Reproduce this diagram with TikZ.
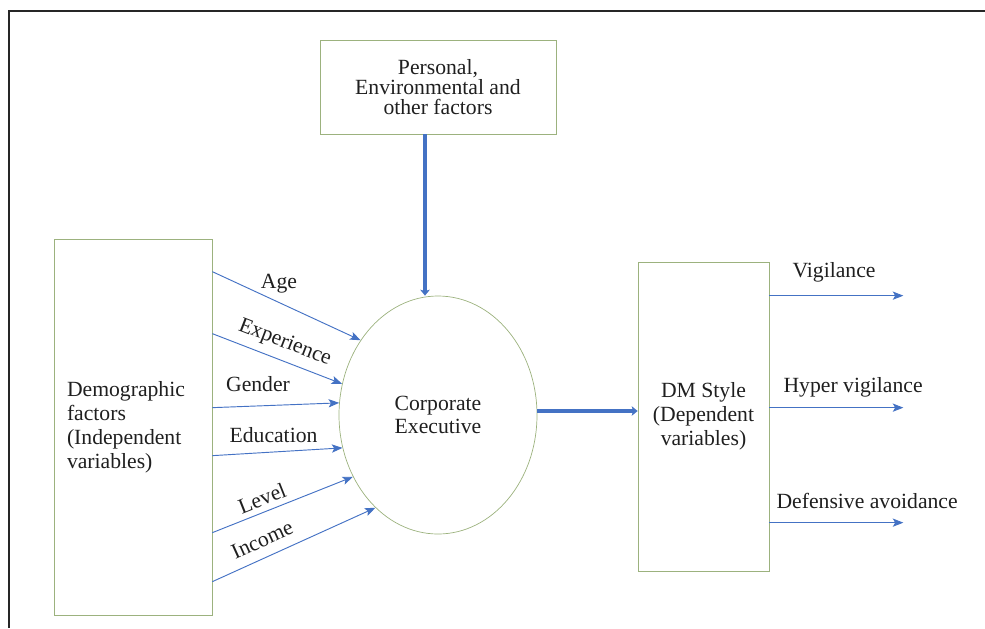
\documentclass[tikz,border=0pt]{standalone}
\usepackage{fontspec}
\setmainfont{Liberation Serif}
\usetikzlibrary{positioning, arrows.meta, shapes.geometric, calc}

\begin{document}
\begin{tikzpicture}[
    % Node styles
    factorbox/.style={
        rectangle, draw=boxgreen, line width=0.6pt,
        font=\fontsize{18.5}{20.5}\selectfont, text=textgray, align=center
    },
    execnode/.style={
        ellipse, draw=boxgreen, line width=0.6pt, inner sep=0pt,
        minimum width=5.94cm, minimum height=7.14cm,
        font=\fontsize{18.5}{19.5}\selectfont, text=textgray, align=center
    },
    varlabel/.style={
        font=\fontsize{18.5}{20}\selectfont, text=textgray, inner sep=0pt
    },
    arrow/.style={
        -{Stealth[length=9pt, width=7pt, inset=2pt]}, line width=0.8pt, color=#1
    },
    thick arrow/.style={
        -{Stealth[length=5pt, width=8pt, inset=1pt]}, line width=4pt, color=#1
    },
    frame/.style={
        draw=black!85, line width=1.5pt
    }
]

% ── Colours ──
\definecolor{boxgreen}{HTML}{9CB27E}
\definecolor{arrowblue}{HTML}{4472C4}
\definecolor{textgray}{HTML}{1F1F1F}

\useasboundingbox (0,0) rectangle (29.55,-18.84);

% ════════════════════════════════════════
% FRAME (left and top edges)
% ════════════════════════════════════════
\draw[frame] (0.27,-18.84) |- (29.55,-0.33);

% ════════════════════════════════════════
% NODES
% ════════════════════════════════════════
\node[factorbox, minimum width=7.08cm, minimum height=2.82cm,
      font=\fontsize{18.5}{17}\selectfont]
    (pef)  at (13.14, -2.61)  {Personal,\\Environmental and\\other factors};
\node[factorbox, minimum width=4.74cm, minimum height=11.28cm,
      text width=3.96cm, inner xsep=0.39cm, align=left]
    (demo) at (3.99, -12.81)  {Demographic\\factors\\(Independent\\variables)};
\node[execnode]
    (ce)   at (13.14, -12.45) {Corporate\\Executive};
\node[factorbox, minimum width=3.93cm, minimum height=9.27cm]
    (dm)   at (21.105, -12.495) {DM Style\\(Dependent\\variables)};

% ════════════════════════════════════════
% THICK ARROWS
% ════════════════════════════════════════
% Personal factors -> Corporate Executive
\draw[thick arrow=arrowblue] ([xshift=-0.39cm]pef.south) -- ([xshift=-0.39cm]ce.north);
% Corporate Executive -> DM Style
\draw[thick arrow=arrowblue] ([yshift=0.12cm]ce.east) -- ([yshift=0.12cm]ce.east -| dm.west);

% ════════════════════════════════════════
% DEMOGRAPHIC FACTORS -> Corporate Executive
% ════════════════════════════════════════
\draw[arrow=arrowblue] ($(demo.north east)+(0,-0.99)$)  -- (ce.136)
    node[varlabel, pos=0.45, above=0.28cm] (agelbl) {Age};
\draw[arrow=arrowblue] ($(demo.north east)+(0,-2.85)$)  -- (ce.162)
    node[varlabel, pos=0.51, above=0.22cm, sloped] (explbl) {Experience};
\draw[arrow=arrowblue] ($(demo.north east)+(0,-5.07)$)  -- (ce.173)
    node[varlabel, pos=0.36, above=0.4cm] (genlbl) {Gender};
\draw[arrow=arrowblue] ($(demo.north east)+(0,-6.51)$)  -- (ce.199)
    node[varlabel, pos=0.47, above=0.25cm] (edulbl) {Education};
\draw[arrow=arrowblue] ($(demo.north east)+(0,-8.82)$)  -- (ce.216)
    node[varlabel, pos=0.39, above=0.17cm, sloped] (levlbl) {Level};
\draw[arrow=arrowblue] ($(demo.north east)+(0,-10.29)$) -- (ce.236)
    node[varlabel, pos=0.35, above=0.3cm, sloped] (inclbl) {Income};

% ════════════════════════════════════════
% DM STYLE -> outcomes
% ════════════════════════════════════════
\draw[arrow=arrowblue] ($(dm.north east)+(0,-1.02)$) coordinate (vigstart)
    -- ++(4.02,0) coordinate (vigend);
\draw[arrow=arrowblue] ($(dm.north east)+(0,-4.38)$) coordinate (hypstart)
    -- ++(4.02,0) coordinate (hypend);
\draw[arrow=arrowblue] ($(dm.north east)+(0,-7.83)$) coordinate (defstart)
    -- ++(4.02,0) coordinate (defend);

\node[varlabel, above right=0.4cm and 0.69cm of vigstart] (viglbl) {Vigilance};
\node[varlabel, above right=0.31cm and 0.42cm of hypstart] (hyplbl) {Hyper vigilance};
\node[varlabel, above right=0.4cm and 0.21cm of defstart] (deflbl) {Defensive avoidance};

\end{tikzpicture}
\end{document}
